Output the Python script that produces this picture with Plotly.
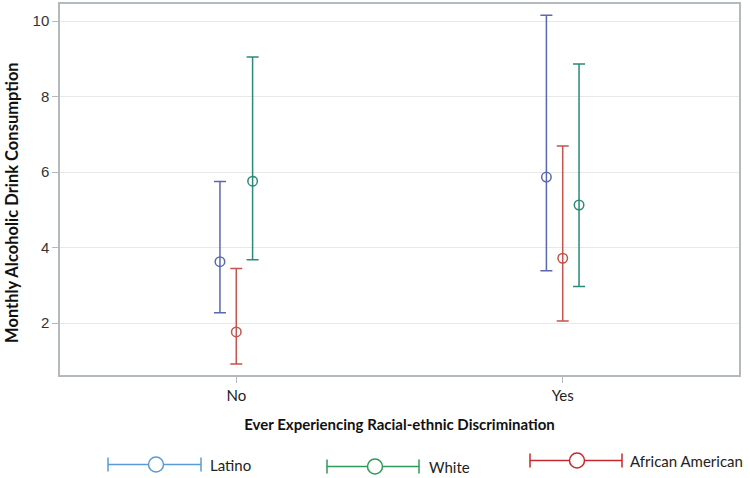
import plotly.graph_objects as go

categories = ["No", "Yes"]
groups = ["Latino", "African American", "White"]

latino_mean = [3.63, 5.87]
latino_lower = [2.28, 3.39]
latino_upper = [5.75, 10.15]

aa_mean = [1.77, 3.72]
aa_lower = [0.92, 2.06]
aa_upper = [3.45, 6.69]

white_mean = [5.76, 5.13]
white_lower = [3.68, 2.97]
white_upper = [9.05, 8.86]

y_ticks = [2, 4, 6, 8, 10]

plot_colors = {"Latino": "#5a68b0", "African American": "#c4544c", "White": "#2b8a78"}
legend_colors = {"Latino": "#5b9bd5", "White": "#2e9a5a", "African American": "#c8282d"}
offsets = {"Latino": -0.05, "African American": 0.0, "White": 0.05}

series = {
    "Latino": (latino_mean, latino_lower, latino_upper),
    "African American": (aa_mean, aa_lower, aa_upper),
    "White": (white_mean, white_lower, white_upper),
}

fig = go.Figure()
for g in groups:
    m, lo, hi = series[g]
    xs = [i + offsets[g] for i in range(len(categories))]
    fig.add_trace(go.Scatter(
        x=xs, y=m, mode="markers", name=g, showlegend=False,
        marker=dict(symbol="circle-open", size=9.5, color=plot_colors[g], line=dict(width=1.5)),
        error_y=dict(type="data", symmetric=False,
                     array=[h - v for h, v in zip(hi, m)],
                     arrayminus=[v - l for v, l in zip(m, lo)],
                     color=plot_colors[g], thickness=1.5, width=6),
    ))

L, R, T, B = 60, 11, 2, 103
W, H = 750, 478
pw, ph = W - L - R, H - T - B

def px(x):
    return (x - L) / pw

def py(y):
    return (H - B - y) / ph

legend_items = [
    ("Latino", 108, 156, 201, 208, 465),
    ("White", 327, 375, 419, 427, 467),
    ("African American", 530, 577, 622, 628, 461),
]
shapes = []
annotations = []
for name, x0, xc, x1, xt, yc in legend_items:
    c = legend_colors[name]
    shapes.append(dict(type="line", xref="paper", yref="paper", x0=px(x0), x1=px(x1), y0=py(yc), y1=py(yc),
                       line=dict(color=c, width=1.5)))
    for xe in (x0, x1):
        shapes.append(dict(type="line", xref="paper", yref="paper", x0=px(xe), x1=px(xe), y0=py(yc - 7), y1=py(yc + 7),
                           line=dict(color=c, width=1.5)))
    shapes.append(dict(type="circle", xref="paper", yref="paper", xsizemode="pixel", ysizemode="pixel",
                       xanchor=px(xc), yanchor=py(yc), x0=-7.5, x1=7.5, y0=-7.5, y1=7.5,
                       fillcolor="white", line=dict(color=c, width=1.5)))
    annotations.append(dict(text=name, xref="paper", yref="paper", x=px(xt), y=py(yc), xanchor="left",
                            yanchor="middle", showarrow=False, font=dict(family="Lato", size=15, color="#222")))

annotations.append(dict(text="<b>Monthly Alcoholic Drink Consumption</b>", xref="paper", yref="paper",
                        x=px(12), y=py(202), xanchor="center", yanchor="middle", textangle=-90,
                        showarrow=False, font=dict(family="Lato", size=16.5, color="#111")))

fig.update_layout(
    width=W, height=H,
    margin=dict(l=L, r=R, t=T, b=B),
    paper_bgcolor="white", plot_bgcolor="white",
    shapes=shapes, annotations=annotations,
    xaxis=dict(range=[-0.54, 1.54], tickvals=list(range(len(categories))), ticktext=categories,
               showgrid=False, zeroline=False, showline=True, linecolor="#b4b9be", linewidth=1.5, mirror=True,
               ticks="outside", ticklen=6, tickcolor="#b4b9be",
               tickfont=dict(family="Lato", size=15, color="#222"),
               title=dict(text="<b>Ever Experiencing Racial-ethnic Discrimination</b>",
                          font=dict(family="Lato", size=15, color="#111"), standoff=17)),
    yaxis=dict(range=[0.63, 10.45], tickvals=y_ticks, showgrid=True, gridcolor="#e8e8e8", gridwidth=1,
               zeroline=False, showline=True, linecolor="#b4b9be", linewidth=1.5, mirror=True,
               ticks="outside", ticklen=6, tickcolor="#b4b9be",
               tickfont=dict(family="Liberation Sans", size=15, color="#333")),
)

fig.write_html("out.html", config={"displayModeBar": False},
               post_script="document.body.style.margin='0';document.body.style.padding='0';")
